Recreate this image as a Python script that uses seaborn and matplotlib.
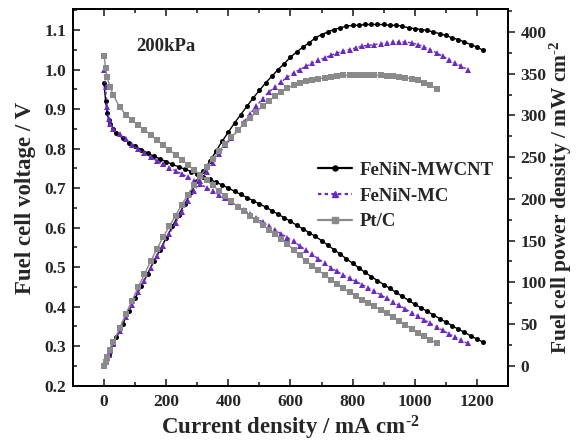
import matplotlib
matplotlib.use("Agg")
import matplotlib.pyplot as plt
import seaborn as sns
import pandas as pd
from matplotlib.ticker import MultipleLocator
from matplotlib.lines import Line2D

# ---------------- data ----------------
i_mwcnt = [0, 5, 10, 15, 20, 30, 40, 60, 80, 100, 120, 140, 160, 180, 200, 220, 240, 260, 280,
           300, 320, 340, 360, 380, 400, 420, 440, 460, 480, 500, 520, 540, 560, 580, 600,
           620, 640, 660, 680, 700, 720, 740, 760, 780, 800, 820, 840, 860, 880, 900, 920,
           940, 960, 980, 1000, 1020, 1040, 1060, 1080, 1100, 1120, 1140, 1160, 1180, 1200, 1220]
v_mwcnt = [0.966, 0.920, 0.890, 0.873, 0.862, 0.850, 0.840, 0.826, 0.815, 0.806, 0.797, 0.789,
           0.781, 0.774, 0.767, 0.760, 0.754, 0.748, 0.742, 0.736, 0.729, 0.722, 0.715, 0.708,
           0.700, 0.692, 0.684, 0.676, 0.668, 0.660, 0.652, 0.643, 0.634, 0.625, 0.616, 0.606,
           0.597, 0.587, 0.578, 0.567, 0.556, 0.544, 0.533, 0.521, 0.510, 0.498, 0.487, 0.476,
           0.466, 0.456, 0.446, 0.436, 0.426, 0.416, 0.406, 0.397, 0.388, 0.379, 0.370, 0.361,
           0.352, 0.343, 0.335, 0.326, 0.318, 0.310]
p_mwcnt = [0, 5, 9, 13, 17, 26, 34, 50, 65, 81, 96, 110, 125, 139, 153, 167, 181, 194, 208,
           221, 233, 245, 257, 269, 280, 291, 301, 311, 321, 330, 339, 347, 355, 362, 370,
           376, 382, 387, 393, 397, 400, 403, 405, 407, 408, 408, 409, 409, 409, 409, 408,
           408, 407, 405, 404, 403, 402, 400, 398, 396, 393, 391, 388, 385, 382, 378]

i_mc = [0, 5, 10, 15, 20, 30, 50, 70, 90, 110, 130, 150, 170, 190, 210, 230, 250, 270, 290,
        310, 330, 350, 370, 390, 410, 430, 450, 470, 490, 510, 530, 550, 570, 590, 610,
        630, 650, 670, 690, 710, 730, 750, 770, 790, 810, 830, 850, 870, 890, 910, 930,
        950, 970, 990, 1010, 1030, 1050, 1070, 1090, 1110, 1130, 1150, 1170]
v_mc = [1.000, 0.955, 0.905, 0.875, 0.862, 0.850, 0.837, 0.823, 0.810, 0.798, 0.788, 0.778,
        0.769, 0.760, 0.752, 0.744, 0.736, 0.728, 0.719, 0.710, 0.701, 0.692, 0.683, 0.674,
        0.664, 0.654, 0.644, 0.634, 0.624, 0.614, 0.604, 0.594, 0.584, 0.575, 0.565, 0.554,
        0.543, 0.532, 0.521, 0.510, 0.499, 0.489, 0.480, 0.472, 0.464, 0.456, 0.448, 0.439,
        0.430, 0.421, 0.412, 0.403, 0.394, 0.385, 0.376, 0.367, 0.358, 0.349, 0.340, 0.331,
        0.323, 0.315, 0.307]
p_mc = [0, 5, 9, 13, 17, 26, 42, 58, 73, 88, 102, 117, 131, 144, 158, 171, 184, 197, 209,
        221, 232, 243, 254, 264, 273, 282, 292, 302, 311, 320, 328, 334, 340, 346, 351,
        355, 359, 363, 366, 369, 372, 375, 377, 379, 381, 383, 384, 385, 386, 387, 388,
        388, 388, 387, 385, 382, 379, 375, 371, 367, 363, 359, 355]

i_pt = [0, 5, 10, 20, 30, 50, 70, 90, 110, 130, 150, 170, 190, 210, 230, 250, 270, 290, 310,
        330, 350, 370, 390, 410, 430, 450, 470, 490, 510, 530, 550, 570, 590, 610, 630,
        650, 670, 690, 710, 730, 750, 770, 790, 810, 830, 850, 870, 890, 910, 930, 950,
        970, 990, 1010, 1030, 1050, 1070]
v_pt = [1.035, 1.003, 0.980, 0.955, 0.935, 0.905, 0.886, 0.872, 0.859, 0.847, 0.835, 0.822,
        0.809, 0.797, 0.784, 0.772, 0.759, 0.746, 0.733, 0.720, 0.707, 0.693, 0.680, 0.667,
        0.653, 0.641, 0.630, 0.619, 0.607, 0.595, 0.583, 0.571, 0.558, 0.544, 0.530, 0.516,
        0.504, 0.492, 0.480, 0.468, 0.457, 0.446, 0.436, 0.427, 0.418, 0.410, 0.401, 0.392,
        0.383, 0.374, 0.364, 0.354, 0.344, 0.334, 0.325, 0.316, 0.307]
p_pt = [0, 5, 10, 19, 28, 45, 62, 78, 94, 110, 125, 140, 154, 167, 180, 193, 205, 216, 227,
        238, 248, 257, 266, 274, 282, 290, 297, 304, 311, 317, 323, 328, 333, 336, 339,
        341, 343, 344, 345, 346, 347, 348, 348, 348, 348, 348, 348, 348, 347, 347, 346,
        345, 344, 342, 339, 336, 332]

labels = ["FeNiN-MWCNT", "FeNiN-MC", "Pt/C"]
x_ticks = [0, 200, 400, 600, 800, 1000, 1200]
yl_ticks = [0.2, 0.3, 0.4, 0.5, 0.6, 0.7, 0.8, 0.9, 1.0, 1.1]
yr_ticks = [0, 50, 100, 150, 200, 250, 300, 350, 400]
annotation = "200kPa"

# ---------------- style ----------------
sns.set_theme(style="white")
plt.rcParams["font.family"] = ["Liberation Serif", "DejaVu Serif"]
plt.rcParams["font.weight"] = "bold"
plt.rcParams["mathtext.fontset"] = "custom"
plt.rcParams["mathtext.rm"] = "Liberation Serif:bold"
plt.rcParams["mathtext.default"] = "rm"

c_black = "#000000"
c_purple = "#6A2BC4"
c_gray = "#8A8A8A"

fig = plt.figure(figsize=(5.77, 4.41), dpi=100)
ax = fig.add_axes([0.1265, 0.1254, 0.7539, 0.8531])
ax2 = ax.twinx()

series = [
    (i_mwcnt, v_mwcnt, p_mwcnt, c_black, "o", 3.6, "-"),
    (i_mc, v_mc, p_mc, c_purple, "^", 5.0, (0, (2, 2))),
    (i_pt, v_pt, p_pt, c_gray, "s", 4.0, "-"),
]
for (ii, vv, pp, col, mk, ms, ls) in series:
    dfv = pd.DataFrame({"i": ii, "v": vv})
    dfp = pd.DataFrame({"i": ii, "p": pp})
    sns.lineplot(data=dfv, x="i", y="v", ax=ax, color=col, marker=mk, markersize=ms,
                 markeredgewidth=0, linewidth=1.0, linestyle=ls, sort=False,
                 estimator=None, legend=False)
    sns.lineplot(data=dfp, x="i", y="p", ax=ax2, color=col, marker=mk, markersize=ms,
                 markeredgewidth=0, linewidth=1.0, linestyle=ls, sort=False,
                 estimator=None, legend=False)

ax.set_xlim(-100, 1300)
ax.set_ylim(0.2, 1.152)
ax2.set_ylim(-24, 427)
ax.set_xticks(x_ticks)
ax.set_yticks(yl_ticks)
ax2.set_yticks(yr_ticks)
ax.set_xticklabels([str(t) for t in x_ticks])
ax.set_yticklabels([f"{t:.1f}" for t in yl_ticks])
ax2.set_yticklabels([str(t) for t in yr_ticks])
ax.xaxis.set_minor_locator(MultipleLocator(100))
ax.yaxis.set_minor_locator(MultipleLocator(0.05))
ax2.yaxis.set_minor_locator(MultipleLocator(25))

ax.tick_params(axis="x", which="both", direction="in", top=True, bottom=True,
               labelsize=12.5, pad=6, width=1.2)
ax.tick_params(axis="y", which="both", direction="in", left=True, right=False,
               labelsize=12.5, pad=5, width=1.2)
ax.tick_params(which="major", length=5)
ax.tick_params(which="minor", length=3)
ax2.tick_params(axis="y", which="both", direction="out", right=True, labelsize=12.5,
                pad=4, width=1.2)
ax2.tick_params(which="major", length=5)
ax2.tick_params(which="minor", length=3)
for lab in ax.get_xticklabels() + ax.get_yticklabels() + ax2.get_yticklabels():
    lab.set_fontweight("bold")

for a in (ax, ax2):
    for s in a.spines.values():
        s.set_color("black")
        s.set_linewidth(1.3)
ax2.grid(False)
ax.grid(False)

ax.set_xlabel(r"Current density / mA cm$^{\text{-2}}$", fontsize=16.5, fontweight="bold",
              labelpad=3)
ax.set_ylabel("Fuel cell voltage / V", fontsize=16.5, fontweight="bold", labelpad=6)
ax2.set_ylabel(r"Fuel cell power density / mW cm$^{\text{-2}}$", fontsize=15.5,
               fontweight="bold", labelpad=1, rotation=90)

ax.text(103, 1.058, annotation, fontsize=13.5, fontweight="bold", ha="left", va="center")

handles = [
    Line2D([], [], color=c_black, marker="o", markersize=3.6, linewidth=1.6, linestyle="-"),
    Line2D([], [], color=c_purple, marker="^", markersize=5.0, linewidth=1.6,
           linestyle=(0, (1.5, 1.5))),
    Line2D([], [], color=c_gray, marker="s", markersize=4.0, linewidth=1.6, linestyle="-"),
]
leg = ax2.legend(handles, labels, loc="upper left", bbox_to_anchor=(0.546, 0.615),
                 frameon=False, fontsize=13.5, handlelength=1.8, handletextpad=0.4,
                 labelspacing=0.45, borderaxespad=0)
for t in leg.get_texts():
    t.set_fontweight("bold")

fig.savefig("out.png", dpi=100)
